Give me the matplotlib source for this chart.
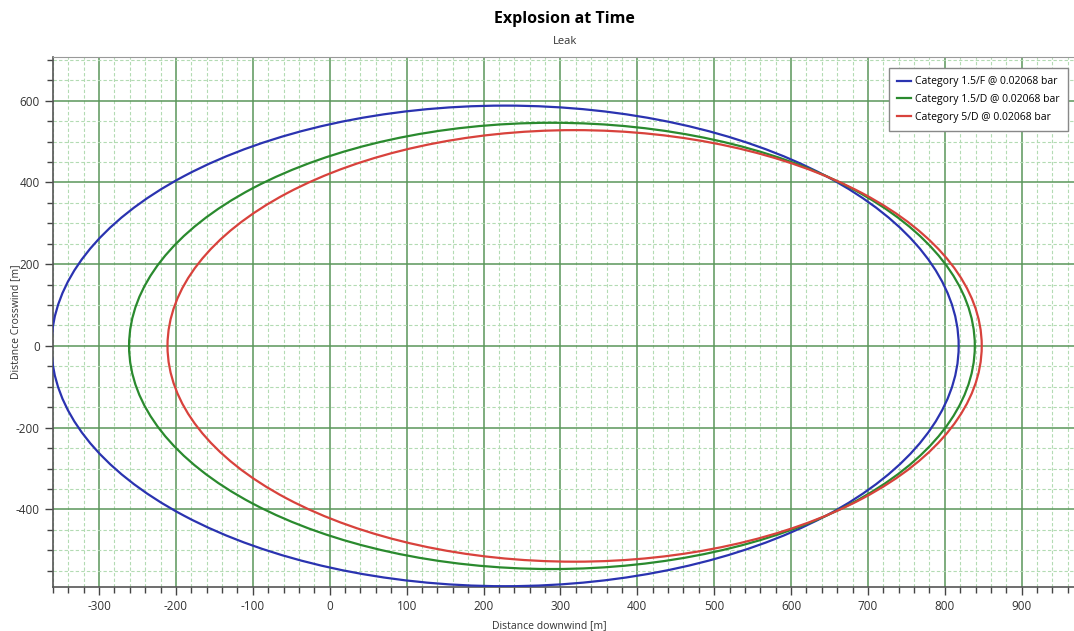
import matplotlib.pyplot as plt
from matplotlib.patches import Ellipse
from matplotlib.lines import Line2D
from matplotlib.ticker import MultipleLocator

plt.rcParams['font.family'] = ['Open Sans', 'DejaVu Sans']
plt.rcParams['axes.unicode_minus'] = False

# footprint of each explosion zone
labels = ["Category 1.5/F @ 0.02068 bar",
          "Category 1.5/D @ 0.02068 bar",
          "Category 5/D @ 0.02068 bar"]
center_x = [228, 289, 318.5]
center_y = [0, 0, 0]
semi_x = [590, 550, 529.5]
semi_y = [588, 546, 528]
colors = ["#2a33b0", "#2a8a2e", "#d8423c"]

x_ticks = [-300, -200, -100, 0, 100, 200, 300, 400, 500, 600, 700, 800, 900]
y_ticks = [-400, -200, 0, 200, 400, 600]

fig = plt.figure(figsize=(10.74, 6.31), dpi=100)
ax = fig.add_axes([0.0493, 0.0697, 0.9507, 0.84])

for cx, cy, a, b, c in zip(center_x, center_y, semi_x, semi_y, colors):
    ax.add_patch(Ellipse((cx, cy), 2 * a, 2 * b, fill=False, edgecolor=c, lw=1.6, zorder=3))

ax.set_xlim(-360, 968)
ax.set_ylim(-590, 707)
ax.set_xticks(x_ticks)
ax.set_yticks(y_ticks)
ax.xaxis.set_minor_locator(MultipleLocator(20))
ax.yaxis.set_minor_locator(MultipleLocator(50))

ax.grid(which='major', color='#5a965a', lw=1.1, ls='-', zorder=1)
ax.grid(which='minor', color='#b3dbb3', lw=0.8, ls=(0, (3, 2)), zorder=0)
ax.set_axisbelow(True)

for s in ['left', 'bottom']:
    ax.spines[s].set_color('#555555')
    ax.spines[s].set_linewidth(1.2)
ax.spines['top'].set_color('#999999')
ax.spines['right'].set_visible(False)

ax.tick_params(which='major', length=6, width=1, color='#444444', labelsize=8.5, labelcolor='#333333')
ax.tick_params(which='minor', length=4, width=1, color='#444444')

ax.set_xlabel('Distance downwind [m]', fontsize=7.5, color='#333333')
ax.xaxis.set_label_coords(0.486, -0.062)
ax.set_ylabel('Distance Crosswind [m]', fontsize=7.5, color='#333333')
ax.yaxis.set_label_coords(-0.031, 0.5)

fig.text(0.526, 0.97, 'Explosion at Time', ha='center', va='center', fontsize=11.5, fontweight='bold')
fig.text(0.526, 0.935, 'Leak', ha='center', va='center', fontsize=8, color='#333333')

handles = [Line2D([], [], color=c, lw=1.6) for c in colors]
leg = ax.legend(handles, labels, loc='upper right', bbox_to_anchor=(0.999, 0.989),
                fontsize=7.5, fancybox=False, framealpha=1, edgecolor='#888888',
                handlelength=1.3, handletextpad=0.4, borderpad=0.8, labelspacing=0.65)
leg.get_frame().set_linewidth(1)

fig.savefig('out.png', dpi=100)
